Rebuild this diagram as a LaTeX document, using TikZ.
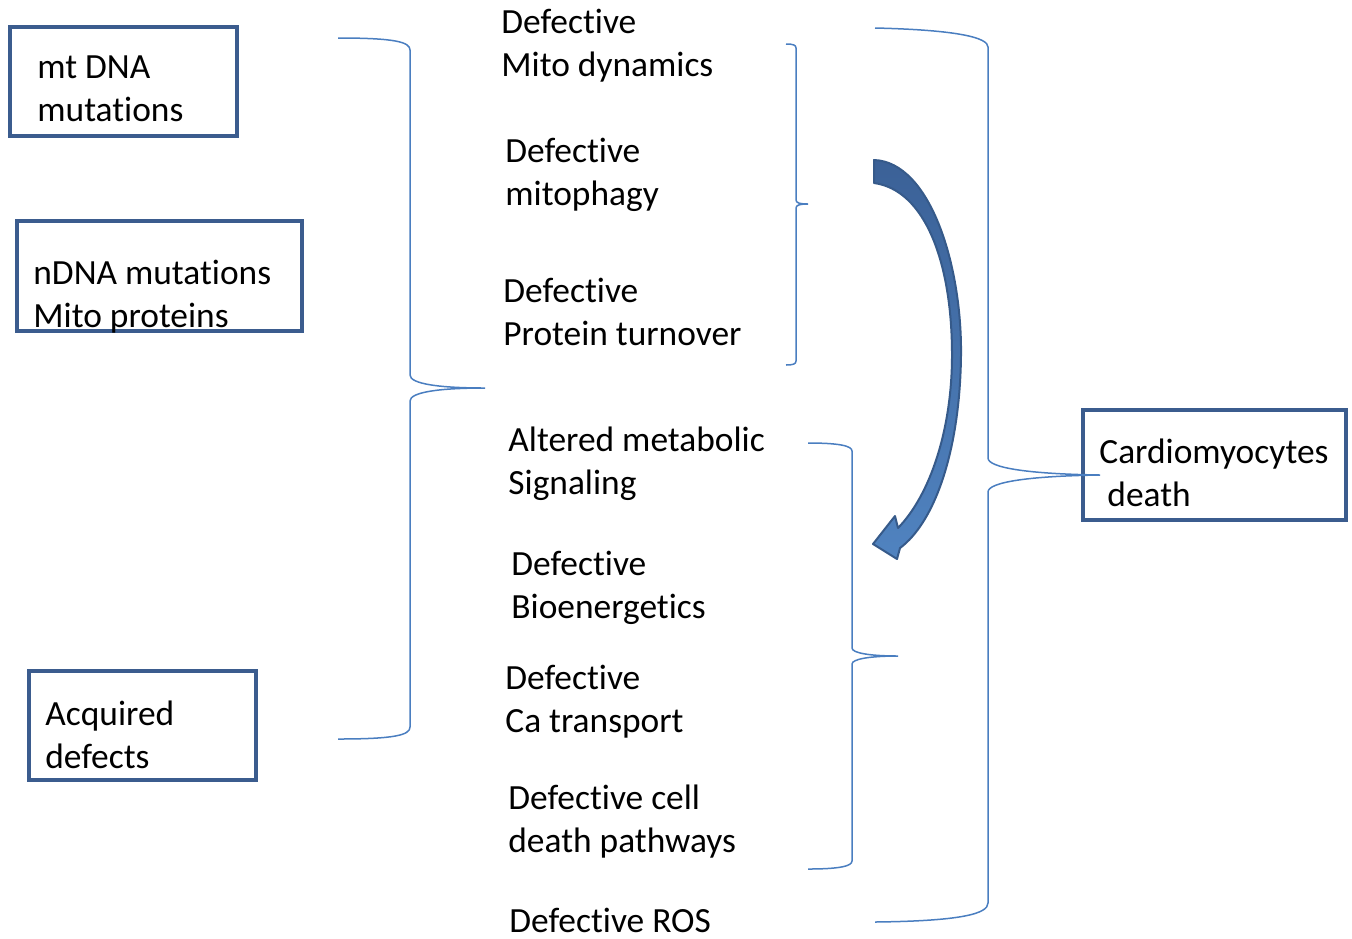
\documentclass[tikz,border=0pt]{standalone}
\usepackage{fontspec}
\setmainfont[Ligatures={NoCommon}]{Carlito}
\definecolor{boxblue}{HTML}{3B5C8E}
\definecolor{bracecol}{HTML}{4A7EC0}
\definecolor{arrowdark}{HTML}{3B6197}
\definecolor{arrowlight}{HTML}{5083C0}
\definecolor{arrowedge}{HTML}{365A8A}
\begin{document}
\begin{tikzpicture}[x=0.5pt,y=-0.5pt,
  boxnode/.style={draw=boxblue,line width=1.8pt,inner sep=0pt},
  label/.style={font=\fontsize{17.7pt}{21.5pt}\selectfont,align=left,anchor=base west,inner sep=0pt},
  bracepath/.style={draw=bracecol,line width=0.75pt}]
\useasboundingbox (0,0) rectangle (1352,938);
% boxes
\node (b1) [boxnode,minimum width=113.5pt,minimum height=54.5pt] at (123.5,81.5) {};
\node (b2) [boxnode,minimum width=142.5pt,minimum height=55pt] at (159.5,276) {};
\node (b3) [boxnode,minimum width=113.5pt,minimum height=54.5pt] at (142.5,725.5) {};
\node (b4) [boxnode,minimum width=131.5pt,minimum height=55pt] at (1214.5,465) {};
% box texts (anchor = baseline of last line)
\node (t1) [label] at (37,121) {mt DNA\\mutations};
\node (t2) [label] at (33,327) {nDNA mutations\\Mito proteins};
\node (t3) [label] at (45,768) {Acquired\\defects};
\node (t4) [label] at (1099,506) {Cardiomyocytes\\\hspace*{4pt}death};
% middle texts
\node (m1) [label] at (501,76) {Defective\\Mito dynamics};
\node (m2) [label] at (505,205) {Defective\\mitophagy};
\node (m3) [label] at (503,345) {Defective\\Protein turnover};
\node (m4) [label] at (508,494) {Altered metabolic\\Signaling};
\node (m5) [label] at (511,618) {Defective\\Bioenergetics};
\node (m6) [label] at (505,732) {Defective\\Ca transport};
\node (m7) [label] at (508,852) {Defective cell\\death pathways};
\node (m8) [label] at (509,932) {Defective ROS};
% braces
\path[bracepath] (338,38) .. controls (395,38) and (410,42) .. (410,50) -- (410,375)
  .. controls (410,384) and (440,388) .. (485,388)
  .. controls (440,388) and (410,392) .. (410,401) -- (410,727)
  .. controls (410,735) and (395,739) .. (338,739);
\path[bracepath] (786,44) .. controls (793,44) and (796,45) .. (796,48) -- (796,200)
  .. controls (796,203) and (800,204) .. (808,204)
  .. controls (800,204) and (796,205) .. (796,208) -- (796,361)
  .. controls (796,364) and (793,365) .. (786,365);
\path[bracepath] (875,28) .. controls (960,30) and (988,38) .. (988,47) -- (988,458)
  .. controls (988,468) and (1030,474) .. (1100,475)
  .. controls (1030,476) and (988,482) .. (988,492) -- (988,903)
  .. controls (988,914) and (960,921) .. (875,922);
\path[bracepath] (808,443) .. controls (840,443) and (852,446) .. (852,451) -- (852,648)
  .. controls (852,653) and (870,656) .. (898,656)
  .. controls (870,656) and (852,659) .. (852,664) -- (852,861)
  .. controls (852,866) and (840,869) .. (808,869);
% curved block arrow
\path[draw=arrowedge,line width=1pt,line join=round,top color=arrowdark,bottom color=arrowlight]
  (874,160) .. controls (930,162) and (962,265) .. (961,355)
  .. controls (960,450) and (935,522) .. (900,548)
  -- (897,559) -- (873,544) -- (895,516) -- (898,528)
  .. controls (930,495) and (952,430) .. (952,355)
  .. controls (952,262) and (925,190) .. (874,183) -- cycle;
\end{tikzpicture}
\end{document}
